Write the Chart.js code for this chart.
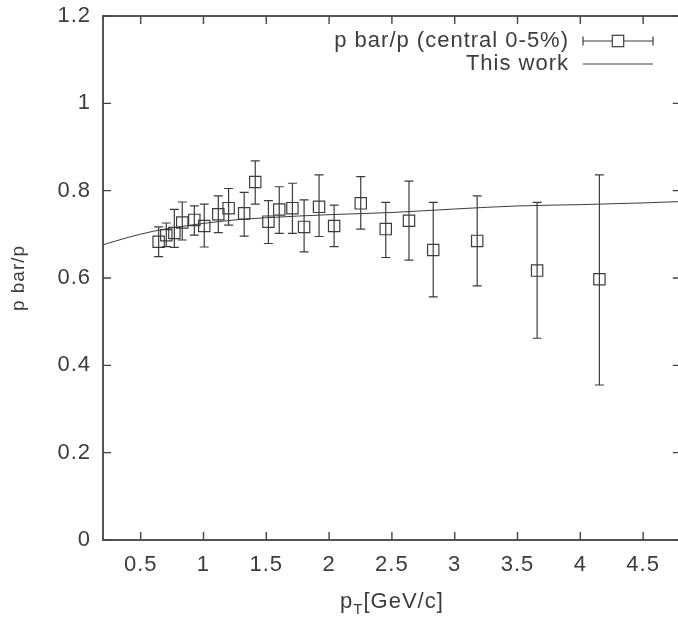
<!DOCTYPE html>
<html>
<head>
<meta charset="utf-8">
<script src="https://cdn.jsdelivr.net/npm/chart.js@4.4.0/dist/chart.umd.min.js"></script>
<style>
  html, body { margin: 0; padding: 0; background: #fff; overflow: hidden; }
  canvas { display: block; }
</style>
</head>
<body>
<canvas id="c" width="690" height="618"></canvas>
<script>
// p bar/p ratio vs pT, central 0-5%, with model curve ("This work")

const ptX   = [0.643, 0.704, 0.768, 0.831, 0.927, 1.006, 1.118, 1.200, 1.324, 1.412, 1.517, 1.603,
               1.708, 1.801, 1.920, 2.040, 2.252, 2.451, 2.636, 2.829, 3.179, 3.656, 4.152];
const ratio = [0.683, 0.698, 0.703, 0.727, 0.733, 0.719, 0.746, 0.760, 0.748, 0.820, 0.729, 0.757,
               0.760, 0.717, 0.763, 0.719, 0.771, 0.712, 0.731, 0.664, 0.685, 0.617, 0.597];
const errLo = [0.649, 0.672, 0.670, 0.687, 0.698, 0.671, 0.704, 0.721, 0.696, 0.769, 0.679, 0.702,
               0.702, 0.660, 0.695, 0.672, 0.712, 0.647, 0.641, 0.557, 0.582, 0.462, 0.355];
const errHi = [0.717, 0.726, 0.757, 0.774, 0.765, 0.769, 0.788, 0.805, 0.796, 0.868, 0.777, 0.809,
               0.817, 0.779, 0.836, 0.767, 0.832, 0.773, 0.822, 0.773, 0.788, 0.773, 0.836];

const modelX = [0.2, 0.4, 0.6, 0.8, 1.0, 1.25, 1.5, 2.0, 2.5, 3.0, 3.5, 4.0, 4.5, 4.8];
const modelY = [0.676, 0.693, 0.707, 0.717, 0.725, 0.733, 0.738, 0.745, 0.750, 0.758, 0.765, 0.768, 0.772, 0.775];

const xTicks = [0.5, 1, 1.5, 2, 2.5, 3, 3.5, 4, 4.5];
const yTicks = [0, 0.2, 0.4, 0.6, 0.8, 1, 1.2];

const seriesNames = ["p bar/p (central 0-5%)", "This work"];

const ink = "#3c3c3c";
const FONT = "'Liberation Sans', Arial, Helvetica, sans-serif";

// gnuplot-ish spacing of glyphs
const spacing = {
  id: "spacing",
  beforeLayout(chart) { chart.ctx.letterSpacing = "1px"; },
  beforeDraw(chart) { chart.ctx.letterSpacing = "1px"; }
};

const errorBars = {
  id: "errorBars",
  beforeDatasetsDraw(chart) {
    const { ctx, scales: { x, y } } = chart;
    const cap = 4.5;
    ctx.save();
    ctx.strokeStyle = ink;
    ctx.lineWidth = 1.2;
    ptX.forEach((v, i) => {
      const px = x.getPixelForValue(v);
      const lo = y.getPixelForValue(errLo[i]);
      const hi = y.getPixelForValue(errHi[i]);
      ctx.beginPath();
      ctx.moveTo(px, lo); ctx.lineTo(px, hi);
      ctx.moveTo(px - cap, lo); ctx.lineTo(px + cap, lo);
      ctx.moveTo(px - cap, hi); ctx.lineTo(px + cap, hi);
      ctx.stroke();
    });
    ctx.restore();
  }
};

// border box, mirrored inward ticks, legend and x title
const frame = {
  id: "frame",
  afterDraw(chart) {
    const { ctx, chartArea: a, scales: { x, y } } = chart;
    const tl = 8;
    ctx.save();
    ctx.strokeStyle = "#444";
    ctx.lineWidth = 1.8;
    ctx.strokeRect(a.left, a.top, a.right - a.left, a.bottom - a.top);
    ctx.lineWidth = 1.4;
    ctx.beginPath();
    xTicks.forEach(v => {
      const px = x.getPixelForValue(v);
      ctx.moveTo(px, a.bottom); ctx.lineTo(px, a.bottom - tl);
      ctx.moveTo(px, a.top); ctx.lineTo(px, a.top + tl);
    });
    yTicks.forEach(v => {
      const py = y.getPixelForValue(v);
      ctx.moveTo(a.left, py); ctx.lineTo(a.left + tl, py);
      ctx.moveTo(a.right, py); ctx.lineTo(a.right - tl, py);
    });
    ctx.stroke();

    // legend
    ctx.fillStyle = ink;
    ctx.strokeStyle = ink;
    ctx.font = "22px " + FONT;
    ctx.textAlign = "right";
    ctx.textBaseline = "middle";
    const tx = 569, s0 = 583, s1 = 653, r1 = 41, r2 = 64;
    ctx.fillText(seriesNames[0], tx, r1);
    ctx.fillText(seriesNames[1], tx, r2);
    ctx.lineWidth = 1.2;
    ctx.beginPath();
    ctx.moveTo(s0, r1); ctx.lineTo(s1, r1);
    ctx.moveTo(s0, r1 - 4.5); ctx.lineTo(s0, r1 + 4.5);
    ctx.moveTo(s1, r1 - 4.5); ctx.lineTo(s1, r1 + 4.5);
    ctx.stroke();
    const m = (s0 + s1) / 2, h = 5.7;
    ctx.fillStyle = "#fff";
    ctx.fillRect(m - h, r1 - h, 2 * h, 2 * h);
    ctx.strokeRect(m - h, r1 - h, 2 * h, 2 * h);
    ctx.lineWidth = 1;
    ctx.beginPath();
    ctx.moveTo(s0, r2); ctx.lineTo(s1, r2);
    ctx.stroke();

    // x title: p_T[GeV/c]
    ctx.fillStyle = ink;
    ctx.textAlign = "left";
    ctx.textBaseline = "alphabetic";
    const big = "22px " + FONT, small = "15px " + FONT;
    ctx.font = big; const wp = ctx.measureText("p").width, wr = ctx.measureText("[GeV/c]").width;
    ctx.font = small; const wt = ctx.measureText("T").width;
    let cx = (a.left + a.right) / 2 - (wp + wt + wr) / 2;
    const base = 608;
    ctx.font = big; ctx.fillText("p", cx, base); cx += wp;
    ctx.font = small; ctx.fillText("T", cx, base + 6); cx += wt;
    ctx.font = big; ctx.fillText("[GeV/c]", cx, base);
    ctx.restore();
  }
};

new Chart(document.getElementById("c"), {
  data: {
    datasets: [
      {
        type: "scatter",
        label: seriesNames[0],
        data: ptX.map((v, i) => ({ x: v, y: ratio[i] })),
        pointStyle: "rect",
        pointRadius: 8,
        borderColor: ink,
        backgroundColor: "rgba(0,0,0,0)",
        borderWidth: 1.2
      },
      {
        type: "line",
        label: seriesNames[1],
        data: modelX.map((v, i) => ({ x: v, y: modelY[i] })),
        borderColor: ink,
        borderWidth: 1,
        pointRadius: 0,
        cubicInterpolationMode: "monotone",
        fill: false
      }
    ]
  },
  options: {
    responsive: false,
    animation: false,
    devicePixelRatio: 1,
    layout: { padding: { top: 16, right: 8, left: 0, bottom: 0 } },
    plugins: { legend: { display: false }, tooltip: { enabled: false } },
    scales: {
      x: {
        type: "linear",
        min: 0.2, max: 4.8,
        afterBuildTicks: s => { s.ticks = xTicks.map(v => ({ value: v })); },
        afterFit: s => { s.height = 78; s.paddingLeft = 0; s.paddingRight = 0; },
        grid: { display: false, drawTicks: false },
        border: { display: false },
        ticks: {
          color: ink, padding: 12,
          font: { family: FONT, size: 22 },
          callback: v => String(v)
        }
      },
      y: {
        type: "linear",
        min: 0, max: 1.2,
        afterBuildTicks: s => { s.ticks = yTicks.map(v => ({ value: v })); },
        afterFit: s => { s.width = 103; s.paddingTop = 0; s.paddingBottom = 0; },
        grid: { display: false, drawTicks: false },
        border: { display: false },
        ticks: {
          color: ink, padding: 12,
          font: { family: FONT, size: 22 },
          callback: v => String(v)
        },
        title: {
          display: true, text: "p bar/p", color: ink,
          font: { family: FONT, size: 19 },
          padding: { top: 7, bottom: 0 }
        }
      }
    }
  },
  plugins: [spacing, errorBars, frame]
});
</script>
</body>
</html>
